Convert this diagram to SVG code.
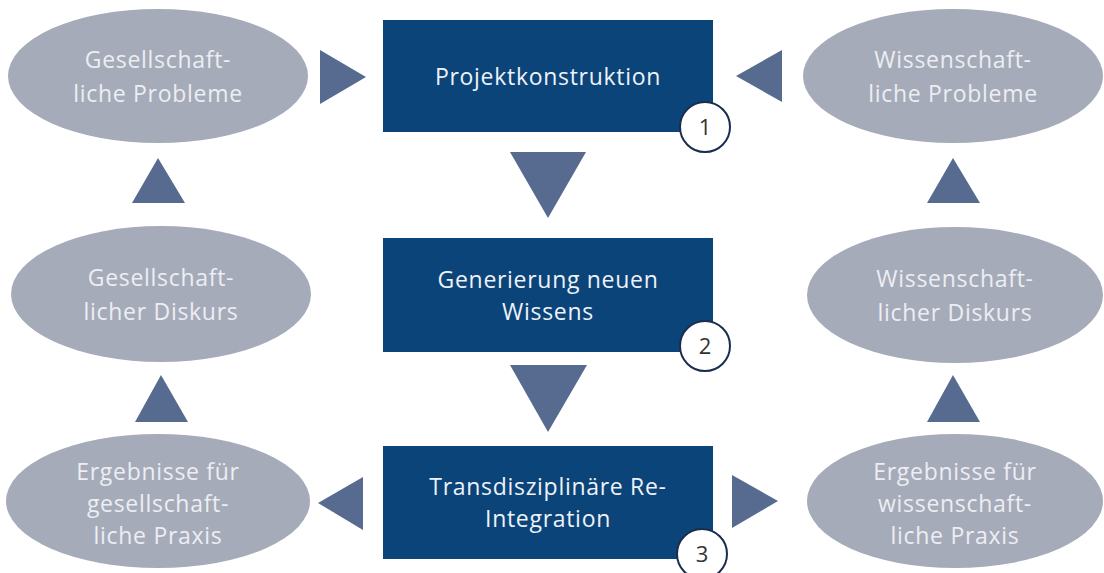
<svg xmlns="http://www.w3.org/2000/svg" width="1104" height="573" viewBox="0 0 1104 573">
<style>
.ell{fill:#a6abb9}
.box{fill:#0b4479}
.tri{fill:#566b8f}
.et{font-family:"Open Sans","Noto Sans",sans-serif;font-size:23px;letter-spacing:0.7px;fill:#eceef3;text-anchor:middle}
.bt{font-family:"Open Sans","Noto Sans",sans-serif;font-size:23px;letter-spacing:0.7px;fill:#eef2f8;text-anchor:middle}
.num{fill:#ffffff;stroke:#1b2d4f;stroke-width:2}
.nt{font-family:"Open Sans","Noto Sans",sans-serif;font-size:22px;fill:#333333;text-anchor:middle}
</style>
<rect width="1104" height="573" fill="#ffffff"/>
<g id="n-ges-probleme">
<ellipse class="ell" cx="158" cy="76" rx="150" ry="67"/>
<text class="et" x="158" y="68">Gesellschaft-</text>
<text class="et" x="158" y="102">liche Probleme</text>
</g>
<g id="n-ges-diskurs">
<ellipse class="ell" cx="161" cy="294" rx="150" ry="68"/>
<text class="et" x="161" y="286">Gesellschaft-</text>
<text class="et" x="161" y="320">licher Diskurs</text>
</g>
<g id="n-ges-praxis">
<ellipse class="ell" cx="158" cy="501" rx="152" ry="67"/>
<text class="et" x="158" y="480">Ergebnisse für</text>
<text class="et" x="158" y="512">gesellschaft-</text>
<text class="et" x="158" y="544">liche Praxis</text>
</g>
<g id="n-wiss-probleme">
<ellipse class="ell" cx="953" cy="76" rx="150" ry="67"/>
<text class="et" x="953" y="68">Wissenschaft-</text>
<text class="et" x="953" y="102">liche Probleme</text>
</g>
<g id="n-wiss-diskurs">
<ellipse class="ell" cx="955" cy="295" rx="148" ry="68"/>
<text class="et" x="955" y="287">Wissenschaft-</text>
<text class="et" x="955" y="321">licher Diskurs</text>
</g>
<g id="n-wiss-praxis">
<ellipse class="ell" cx="955" cy="501" rx="148" ry="67"/>
<text class="et" x="955" y="480">Ergebnisse für</text>
<text class="et" x="955" y="512">wissenschaft-</text>
<text class="et" x="955" y="544">liche Praxis</text>
</g>
<g id="n-projekt">
<rect class="box" x="383" y="20" width="330" height="112"/>
<text class="bt" x="548" y="85">Projektkonstruktion</text>
<circle class="num" cx="705" cy="127" r="25"/>
<text class="nt" x="705" y="135">1</text>
</g>
<g id="n-generierung">
<rect class="box" x="383" y="238" width="330" height="114"/>
<text class="bt" x="548" y="288">Generierung neuen</text>
<text class="bt" x="548" y="320">Wissens</text>
<circle class="num" cx="705" cy="346" r="25"/>
<text class="nt" x="705" y="354">2</text>
</g>
<g id="n-reintegration">
<rect class="box" x="383" y="446" width="330" height="113"/>
<text class="bt" x="548" y="495">Transdisziplinäre Re-</text>
<text class="bt" x="548" y="527">Integration</text>
<circle class="num" cx="702" cy="554" r="25"/>
<text class="nt" x="702" y="562">3</text>
</g>
<g id="connectors">
<polygon class="tri" points="320,50 366,77 320,104"/>
<polygon class="tri" points="782,50 736,76 782,102"/>
<polygon class="tri" points="510,152 586,152 548,218"/>
<polygon class="tri" points="510,365 587,365 548,432"/>
<polygon class="tri" points="363,477 318,503 363,530"/>
<polygon class="tri" points="732,475 778,501 732,528"/>
<polygon class="tri" points="132,203 185,203 158,158"/>
<polygon class="tri" points="135,422 188,422 161,375"/>
<polygon class="tri" points="927,203 980,203 953,158"/>
<polygon class="tri" points="927,422 980,422 953,375"/>
</g>
</svg>
